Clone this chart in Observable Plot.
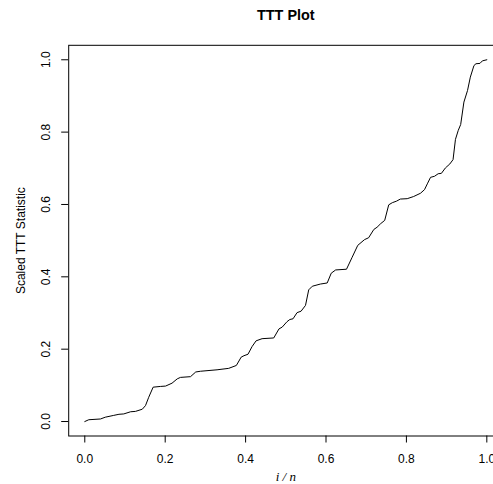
<!DOCTYPE html>
<html>
<head>
<meta charset="utf-8">
<script src="https://cdn.jsdelivr.net/npm/d3@7"></script>
<script src="https://cdn.jsdelivr.net/npm/@observablehq/plot@0.6"></script>
<style>
  html, body { margin: 0; padding: 0; background: #fff; overflow: hidden; }
  #chart svg { overflow: hidden; }
</style>
</head>
<body>
<div id="chart"></div>
<script>
// Scaled total-time-on-test curve: proportion of failures vs scaled TTT statistic
const fraction = [
  0.000, 0.010, 0.039, 0.051, 0.072, 0.085, 0.097, 0.114, 0.126, 0.143,
  0.151, 0.159, 0.170, 0.188, 0.201, 0.217, 0.230, 0.238, 0.263, 0.276,
  0.288, 0.329, 0.358, 0.377, 0.389, 0.396, 0.406, 0.416, 0.426, 0.441,
  0.470, 0.483, 0.491, 0.503, 0.510, 0.518, 0.528, 0.538, 0.549, 0.557,
  0.566, 0.586, 0.603, 0.613, 0.624, 0.651, 0.665, 0.679, 0.696, 0.706,
  0.719, 0.727, 0.736, 0.746, 0.756, 0.765, 0.775, 0.785, 0.802, 0.818,
  0.835, 0.845, 0.852, 0.860, 0.870, 0.879, 0.887, 0.897, 0.908, 0.916,
  0.922, 0.929, 0.935, 0.943, 0.952, 0.959, 0.968, 0.973, 0.983, 0.989,
  1.000
];
const tttStat = [
  0.000, 0.005, 0.007, 0.012, 0.017, 0.020, 0.021, 0.027, 0.028, 0.034,
  0.044, 0.067, 0.095, 0.097, 0.098, 0.106, 0.118, 0.122, 0.124, 0.137,
  0.139, 0.143, 0.147, 0.155, 0.178, 0.182, 0.186, 0.207, 0.223, 0.229,
  0.231, 0.256, 0.261, 0.276, 0.282, 0.284, 0.301, 0.305, 0.321, 0.364,
  0.374, 0.380, 0.383, 0.410, 0.419, 0.421, 0.454, 0.487, 0.503, 0.508,
  0.531, 0.537, 0.547, 0.556, 0.599, 0.605, 0.609, 0.615, 0.616, 0.622,
  0.631, 0.641, 0.657, 0.675, 0.678, 0.685, 0.686, 0.701, 0.712, 0.724,
  0.780, 0.805, 0.821, 0.883, 0.915, 0.952, 0.984, 0.989, 0.990, 0.997,
  1.000
];
const xTicks = [0, 0.2, 0.4, 0.6, 0.8, 1.0];
const yTicks = [0, 0.2, 0.4, 0.6, 0.8, 1.0];

const curve = fraction.map((f, i) => ({f, s: tttStat[i]}));
const fmt = d3.format(".1f");
const sans = "'Liberation Sans', Arial, Helvetica, sans-serif";

const chart = Plot.plot({
  width: 493,
  height: 484,
  marginLeft: 68.2,
  marginRight: -9.4,
  marginTop: 44.8,
  marginBottom: 48.5,
  style: {fontFamily: sans, fontSize: "12px", color: "#000", background: "#fff", overflow: "hidden"},
  x: {domain: [-0.04, 1.04]},
  y: {domain: [-0.04, 1.04]},
  marks: [
    Plot.frame({stroke: "#000", strokeWidth: 1}),
    Plot.axisX({ticks: xTicks, tickSize: 7, tickPadding: 11, tickFormat: fmt, fontSize: 12, label: null, stroke: "#000"}),
    Plot.axisY({ticks: yTicks, tickSize: 7, tickFormat: () => "", label: null, stroke: "#000"}),
    Plot.text(yTicks, {y: d => d, text: fmt, frameAnchor: "left", dx: -23, rotate: -90,
      textAnchor: "middle", lineAnchor: "middle", fontSize: 12, fill: "#000"}),
    Plot.text(["Scaled TTT Statistic"], {frameAnchor: "left", dx: -48, rotate: -90,
      textAnchor: "middle", lineAnchor: "middle", fontSize: 12, fill: "#000"}),
    Plot.text(["TTT Plot"], {frameAnchor: "top", dy: -29.8, lineAnchor: "middle",
      fontSize: 14.4, fontWeight: "bold", fill: "#000"}),
    Plot.text(["i / n"], {frameAnchor: "bottom", dy: 41, lineAnchor: "middle",
      fontSize: 13, fontStyle: "italic", fontFamily: "'Liberation Serif', 'Times New Roman', serif", fill: "#000"}),
    Plot.line(curve, {x: "f", y: "s", stroke: "#000", strokeWidth: 1})
  ]
});
document.getElementById("chart").appendChild(chart);
</script>
</body>
</html>
